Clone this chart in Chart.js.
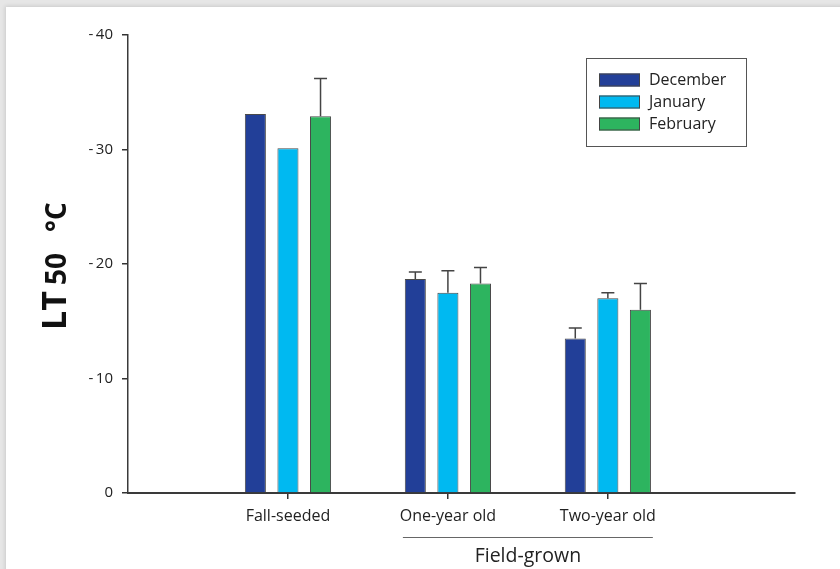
<!DOCTYPE html>
<html lang="en">
<head>
  <meta charset="UTF-8" />
  <title>LT50 by month</title>
  <script src="https://cdn.jsdelivr.net/npm/chart.js"></script>
  <style>
    html, body { margin: 0; padding: 0; }
    body {
      width: 840px;
      height: 569px;
      background: #e6e6e6;
      position: relative;
      overflow: hidden;
      font-family: "Open Sans", sans-serif;
    }
    .card {
      position: absolute;
      left: 6px; top: 7px; right: -10px; bottom: -10px;
      background: #fff;
      box-shadow: -1px -1px 4px rgba(0,0,0,0.12);
    }
    #wrap { position: absolute; left: 0; top: 0; width: 840px; height: 569px; }
  </style>
</head>
<body>
  <div class="card"></div>
  <div id="wrap"><canvas id="chart" width="840" height="569"></canvas></div>

  <script>
    // values (LT50 in °C, stored as negatives)
    const groups = ['Fall-seeded', 'One-year old', 'Two-year old'];
    const groupPos = [1, 2, 3];
    const months = ['December', 'January', 'February'];
    const december = [-33.1, -18.7, -13.5];
    const january  = [-30.1, -17.5, -17.0];
    const february = [-32.9, -18.3, -16.0];
    // error bar lengths (drawn towards colder values only)
    const decErr = [0, 0.6, 0.9];
    const janErr = [0, 1.9, 0.5];
    const febErr = [3.3, 1.4, 2.3];
    const yTicks = [0, -10, -20, -30, -40];

    const colors = ['#223f98', '#00b9f1', '#2db45f'];
    const FONT = '"Open Sans", sans-serif';
    const INK = '#333';

    const points = vals => vals.map((v, i) => ({ x: groupPos[i], y: v }));

    // error bars on top of each bar
    const errorBars = {
      id: 'errorBars',
      afterDatasetsDraw(chart) {
        const { ctx } = chart;
        const yScale = chart.scales.y;
        ctx.save();
        ctx.strokeStyle = '#444';
        ctx.lineWidth = 1.5;
        chart.data.datasets.forEach((ds, di) => {
          const meta = chart.getDatasetMeta(di);
          meta.data.forEach((bar, i) => {
            const e = ds.errors[i];
            if (!e) return;
            const yEnd = yScale.getPixelForValue(ds.data[i].y - e);
            ctx.beginPath();
            ctx.moveTo(bar.x, bar.y);
            ctx.lineTo(bar.x, yEnd);
            ctx.moveTo(bar.x - 6.5, yEnd);
            ctx.lineTo(bar.x + 6.5, yEnd);
            ctx.stroke();
          });
        });
        ctx.restore();
      }
    };

    // boxed legend, y title with subscript, "Field-grown" bracket
    const decorations = {
      id: 'decorations',
      afterDraw(chart) {
        const { ctx, chartArea } = chart;
        const xScale = chart.scales.x;
        ctx.save();

        // legend box
        const bx = chartArea.right - 209, by = chartArea.top + 23;
        ctx.strokeStyle = '#555';
        ctx.lineWidth = 1;
        ctx.strokeRect(bx + 0.5, by + 0.5, 160, 88);
        ctx.font = '16px ' + FONT;
        ctx.textBaseline = 'middle';
        chart.data.datasets.forEach((ds, i) => {
          const yy = by + 22 + i * 22;
          ctx.fillStyle = ds.backgroundColor;
          ctx.fillRect(bx + 13, yy - 6.5, 41, 13);
          ctx.strokeStyle = '#444';
          ctx.strokeRect(bx + 13.5, yy - 6, 40, 12);
          ctx.fillStyle = '#222';
          ctx.fillText(ds.label, bx + 63, yy);
        });

        // y axis title "LT 50 °C"
        ctx.translate(66, 330);
        ctx.rotate(-Math.PI / 2);
        ctx.fillStyle = '#111';
        ctx.textBaseline = 'alphabetic';
        ctx.textAlign = 'left';
        ctx.font = 'bold 34px ' + FONT;
        ctx.fillText('LT', 0, 0);
        ctx.font = 'bold 28px ' + FONT;
        ctx.fillText('50', 45, 0);
        ctx.fillText('°C', 98, 0);
        ctx.setTransform(1, 0, 0, 1, 0, 0);

        // Field-grown bracket
        const x1 = xScale.getPixelForValue(2) - 45;
        const x2 = xScale.getPixelForValue(3) + 45;
        ctx.strokeStyle = '#666';
        ctx.lineWidth = 1;
        ctx.beginPath();
        ctx.moveTo(x1, 537.5);
        ctx.lineTo(x2, 537.5);
        ctx.stroke();
        ctx.fillStyle = '#222';
        ctx.font = '19.5px ' + FONT;
        ctx.textAlign = 'center';
        ctx.textBaseline = 'middle';
        ctx.fillText('Field-grown', (x1 + x2) / 2, 556);
        ctx.restore();
      }
    };

    new Chart(document.getElementById('chart'), {
      type: 'bar',
      data: {
        datasets: [
          { label: months[0], data: points(december), errors: decErr, backgroundColor: colors[0] },
          { label: months[1], data: points(january),  errors: janErr, backgroundColor: colors[1] },
          { label: months[2], data: points(february), errors: febErr, backgroundColor: colors[2] }
        ].map(d => Object.assign(d, {
          borderColor: '#4a4a4a',
          borderWidth: 1,
          categoryPercentage: 0.611,
          barPercentage: 0.646
        }))
      },
      options: {
        responsive: false,
        animation: false,
        events: [],
        layout: { padding: { left: 0, right: 45, top: 35, bottom: 0 } },
        plugins: { legend: { display: false }, tooltip: { enabled: false } },
        scales: {
          x: {
            type: 'linear',
            offset: false,
            min: 0,
            max: 4.17,
            afterBuildTicks: s => { s.ticks = groupPos.map(v => ({ value: v })); },
            afterFit: s => { s.height = 76; },
            ticks: {
              callback: v => groups[groupPos.indexOf(v)] || '',
              color: '#222',
              font: { family: FONT, size: 16 },
              padding: 8,
              maxRotation: 0,
              autoSkip: false
            },
            grid: { display: true, offset: false, drawOnChartArea: false, drawTicks: true, tickLength: 6, color: INK, lineWidth: 1.5 },
            border: { display: true, color: '#3a3a3a', width: 2 }
          },
          y: {
            reverse: true,
            min: -40,
            max: 0,
            afterBuildTicks: s => { s.ticks = yTicks.map(v => ({ value: v })); },
            afterFit: s => { s.width = 128; },
            ticks: {
              callback: v => v === 0 ? '0' : '-\u2009' + Math.abs(v),
              color: '#222',
              font: { family: FONT, size: 15 },
              padding: 9
            },
            grid: { display: true, drawOnChartArea: false, drawTicks: true, tickLength: 6, color: INK, lineWidth: 1.5 },
            border: { display: true, color: '#3a3a3a', width: 1.5 }
          }
        }
      },
      plugins: [errorBars, decorations]
    });
  </script>
</body>
</html>
